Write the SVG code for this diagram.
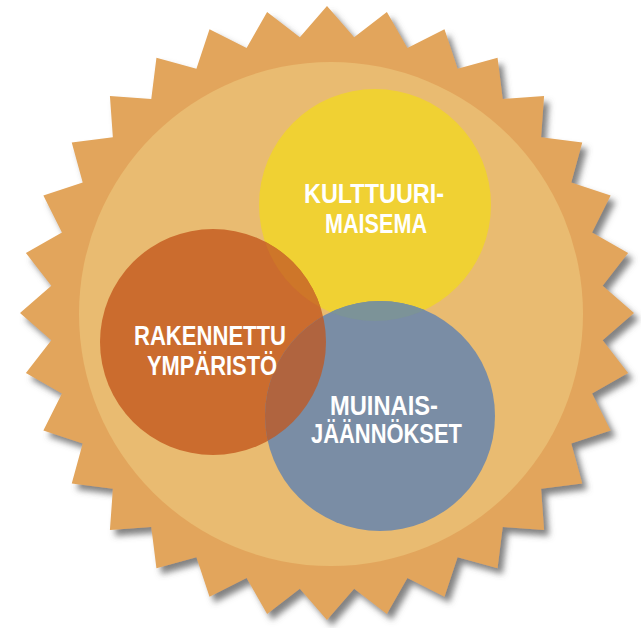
<svg xmlns="http://www.w3.org/2000/svg" width="641" height="628" viewBox="0 0 641 628">
<style>
.lbl{font-family:"Liberation Sans",Arial,sans-serif;font-weight:bold;font-size:27px;fill:#ffffff;text-anchor:middle}
</style>
<defs>
<filter id="sh" x="-10%" y="-10%" width="125%" height="125%">
<feDropShadow dx="5" dy="6" stdDeviation="3" flood-color="#5a5a5a" flood-opacity="0.75"/>
</filter>
<clipPath id="cy"><circle cx="375" cy="205" r="116"/></clipPath>
<clipPath id="co"><circle cx="213" cy="342" r="113"/></clipPath>
</defs>
<g id="sun">
<polygon filter="url(#sh)" fill="#E2A55C" points="327,6 354.15,37.33 386.89,11.9 407.41,47.93 444.48,29.37 457.58,68.71 497.56,57.74 502.73,98.88 544.08,95.92 541.12,137.27 582.26,142.44 571.29,182.42 610.63,195.52 592.07,232.59 628.1,253.11 602.67,285.85 634,313 602.67,340.15 628.1,372.89 592.07,393.41 610.63,430.48 571.29,443.58 582.26,483.56 541.12,488.73 544.08,530.08 502.73,527.12 497.56,568.26 457.58,557.29 444.48,596.63 407.41,578.07 386.89,614.1 354.15,588.67 327,620 299.85,588.67 267.11,614.1 246.59,578.07 209.52,596.63 196.42,557.29 156.44,568.26 151.27,527.12 109.92,530.08 112.88,488.73 71.74,483.56 82.71,443.58 43.37,430.48 61.93,393.41 25.9,372.89 51.33,340.15 20,313 51.33,285.85 25.9,253.11 61.93,232.59 43.37,195.52 82.71,182.42 71.74,142.44 112.88,137.27 109.92,95.92 151.27,98.88 156.44,57.74 196.42,68.71 209.52,29.37 246.59,47.93 267.11,11.9 299.85,37.33"/>
<circle cx="331" cy="314" r="252" fill="#E9BB71"/>
</g>
<g id="kulttuurimaisema">
<circle cx="375" cy="205" r="116" fill="#F0D133"/>
</g>
<g id="rakennettu-ymparisto">
<circle cx="213" cy="342" r="113" fill="#CB6C2E"/>
</g>
<g id="muinaisjaannokset">
<circle cx="380" cy="416" r="115" fill="#7A8DA5"/>
</g>
<g id="overlaps">
<circle cx="213" cy="342" r="113" fill="#CE7629" clip-path="url(#cy)"/>
<circle cx="380" cy="416" r="115" fill="#7C9398" clip-path="url(#cy)"/>
<circle cx="380" cy="416" r="115" fill="#B0643F" clip-path="url(#co)"/>
</g>
<g id="labels">
<text class="lbl" x="374" y="203" textLength="140" lengthAdjust="spacingAndGlyphs">KULTTUURI-</text>
<text class="lbl" x="376" y="233" textLength="102" lengthAdjust="spacingAndGlyphs">MAISEMA</text>
<text class="lbl" x="210" y="345" textLength="152" lengthAdjust="spacingAndGlyphs">RAKENNETTU</text>
<text class="lbl" x="212" y="375" textLength="130" lengthAdjust="spacingAndGlyphs">YMPÄRISTÖ</text>
<text class="lbl" x="384" y="415" textLength="108" lengthAdjust="spacingAndGlyphs">MUINAIS-</text>
<text class="lbl" x="386.5" y="443" textLength="151" lengthAdjust="spacingAndGlyphs">JÄÄNNÖKSET</text>
</g>
</svg>
